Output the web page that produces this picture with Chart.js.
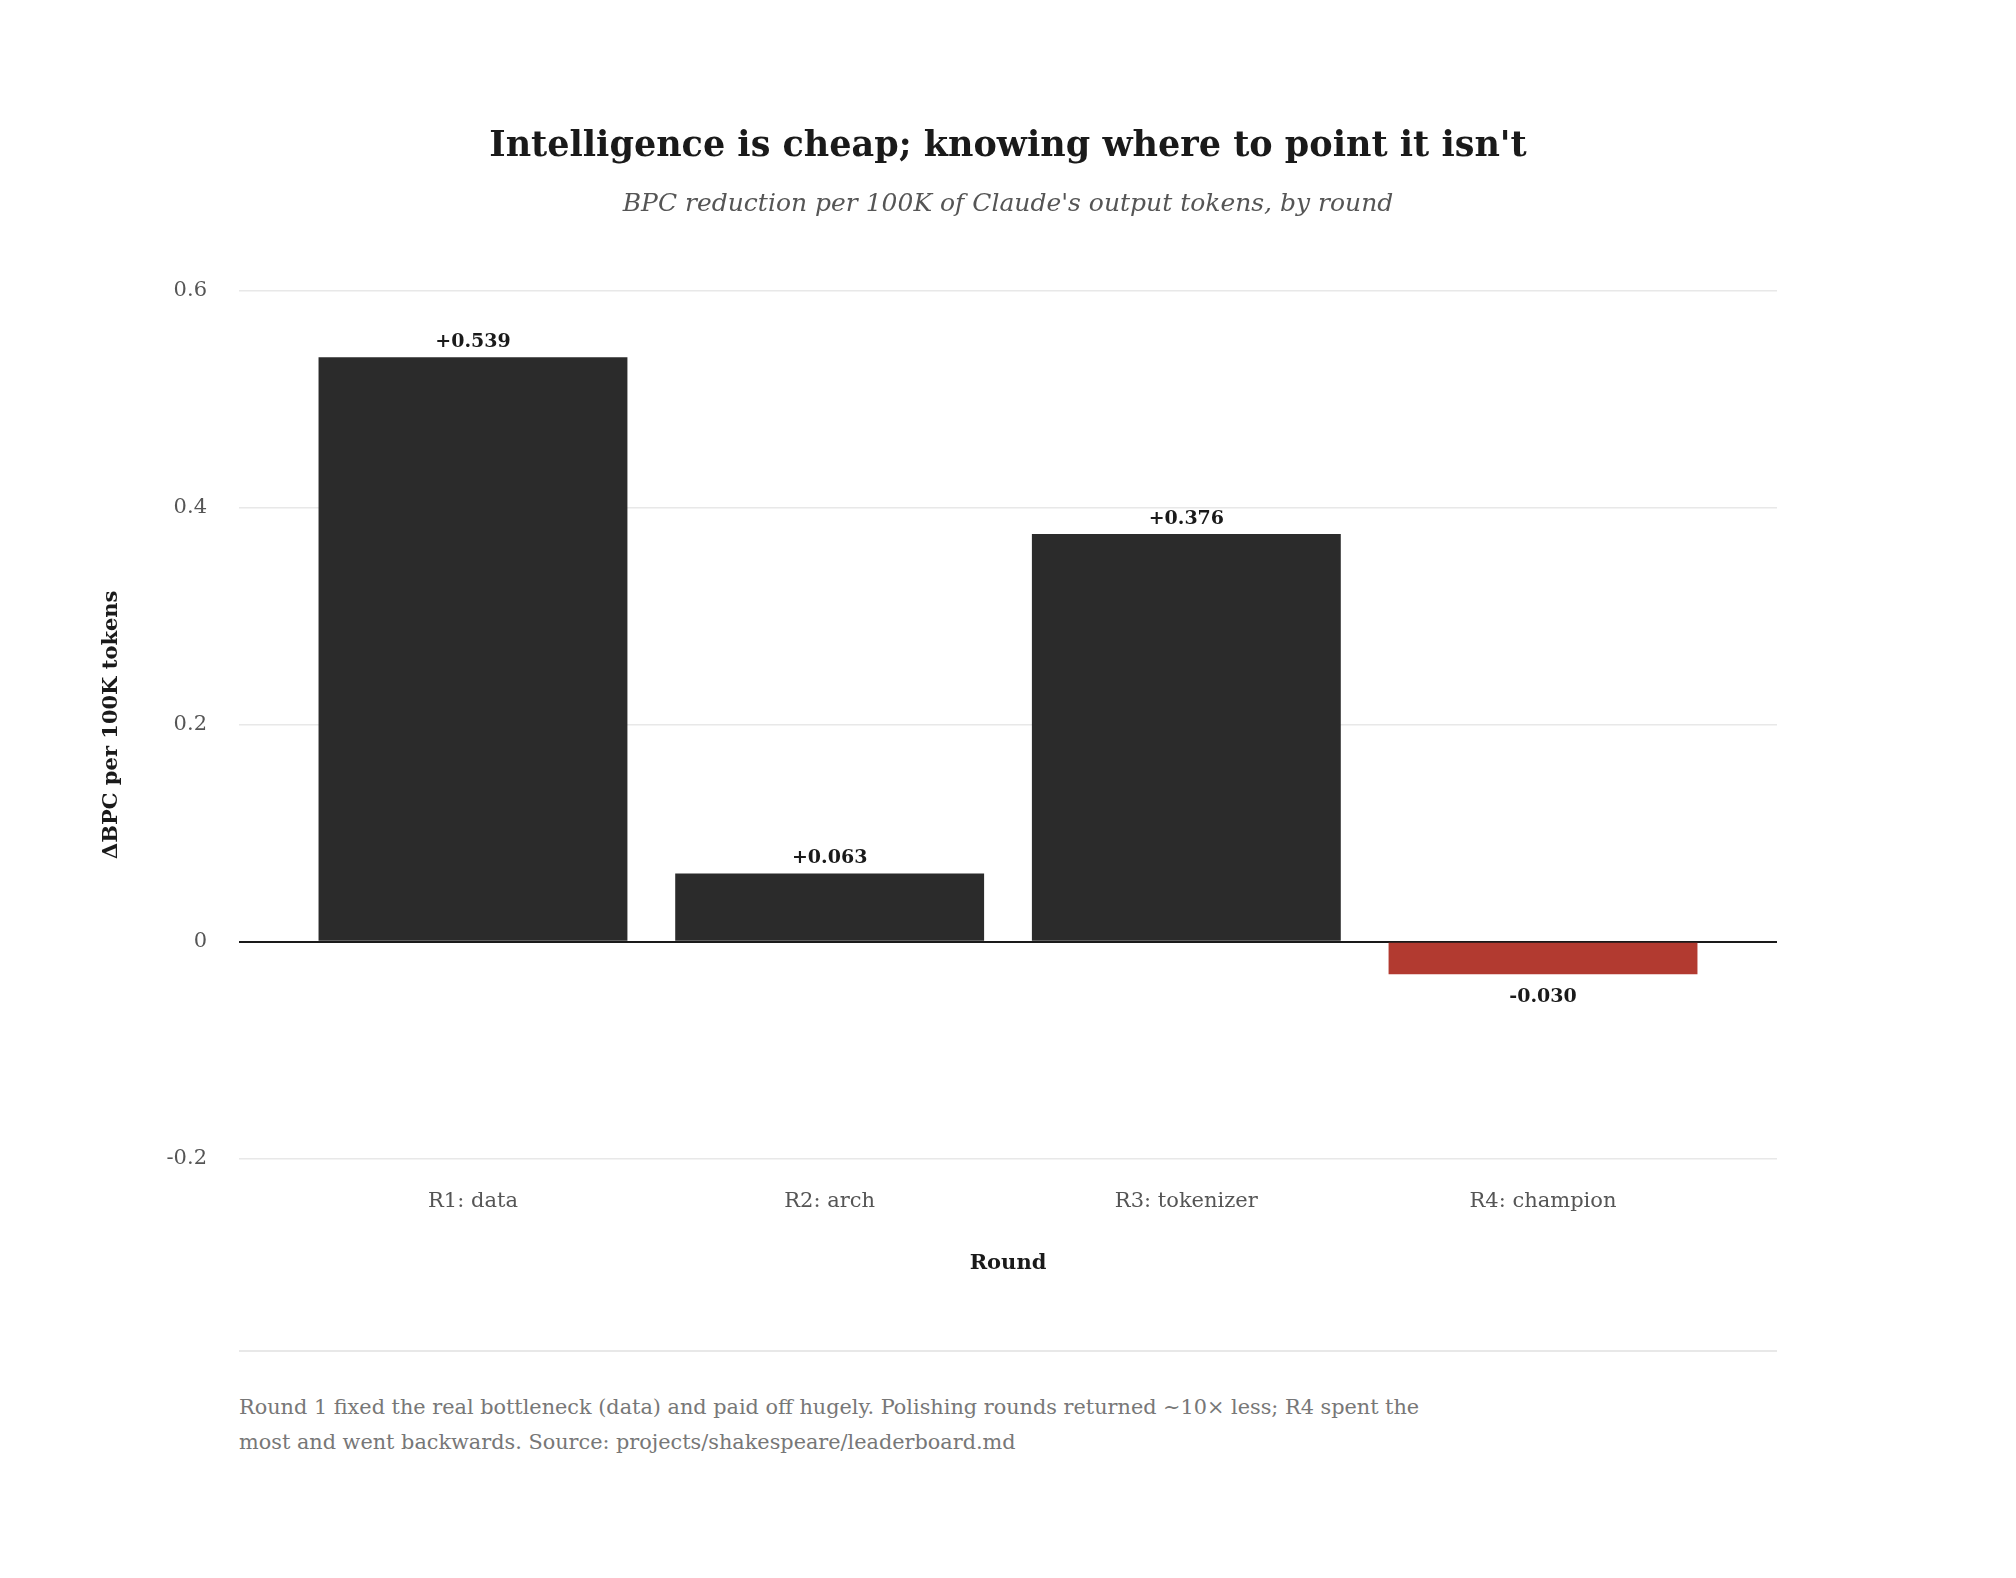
<!DOCTYPE html>
<html>
<head>
<meta charset="utf-8">
<script src="https://cdn.jsdelivr.net/npm/chart.js@4.4.1/dist/chart.umd.min.js"></script>
<style>
  html, body { margin: 0; padding: 0; background: #fff; }
  body { width: 2016px; height: 1578px; position: relative; font-family: "DejaVu Serif", serif; }
  #wrap { position: absolute; left: 0; top: 0; width: 2016px; height: 1300px; }
  #note {
    position: absolute; left: 239px; top: 1350px; width: 1538px;
    border-top: 2px solid #e8e8e8; padding-top: 38px;
    font-size: 20.8px; line-height: 35px; color: #777;
  }
</style>
</head>
<body>
<div id="wrap"><canvas id="chart"></canvas></div>
<div id="note">Round 1 fixed the real bottleneck (data) and paid off hugely. Polishing rounds returned ∼10× less; R4 spent the<br>most and went backwards. Source: projects/shakespeare/leaderboard.md</div>
<script>
(() => {
  'use strict';

  const rounds = ['R1: data', 'R2: arch', 'R3: tokenizer', 'R4: champion'];
  const deltaBpc = [0.539, 0.063, 0.376, -0.030];
  const barColors = ['#2b2b2b', '#2b2b2b', '#2b2b2b', '#b23a30'];

  const serif = '"DejaVu Serif", serif';

  // value labels above / below each bar
  const barLabels = {
    id: 'barLabels',
    afterDatasetsDraw(chart) {
      const ctx = chart.ctx;
      const meta = chart.getDatasetMeta(0);
      ctx.save();
      ctx.font = 'bold 19px ' + serif;
      ctx.fillStyle = '#1a1a1a';
      ctx.textAlign = 'center';
      ctx.textBaseline = 'middle';
      meta.data.forEach((bar, i) => {
        const v = deltaBpc[i];
        const txt = (v >= 0 ? '+' : '') + v.toFixed(3);
        if (v >= 0) ctx.fillText(txt, bar.x, bar.y - 15);
        else ctx.fillText(txt, bar.x, bar.y + 23);
      });
      ctx.restore();
    }
  };

  const ctx = document.getElementById('chart');
  new Chart(ctx, {
    type: 'bar',
    data: {
      datasets: [
        {
          label: 'ΔBPC',
          data: deltaBpc.map((v, i) => ({ x: i, y: v })),
          backgroundColor: barColors,
          borderWidth: 0,
          barPercentage: 0.866,
          categoryPercentage: 1.0
        }
      ]
    },
    options: {
      responsive: true,
      maintainAspectRatio: false,
      animation: false,
      layout: {
        padding: { top: 0, left: 95, right: 95, bottom: 24 }
      },
      plugins: {
        legend: { display: false },
        tooltip: { enabled: false },
        title: {
          display: true,
          text: "Intelligence is cheap; knowing where to point it isn't",
          color: '#1a1a1a',
          font: { family: serif, size: 35, weight: 'bold' },
          padding: { top: 126, bottom: 12 }
        },
        subtitle: {
          display: true,
          text: "BPC reduction per 100K of Claude's output tokens, by round",
          color: '#555',
          font: { family: serif, size: 25, style: 'italic' },
          padding: { top: 9, bottom: 72 }
        }
      },
      scales: {
        x: {
          type: 'linear',
          min: -0.656,
          max: 3.656,
          bounds: 'data',
          offset: false,
          // one tick per round, at the bar centres
          afterBuildTicks(scale) { scale.ticks = rounds.map((r, i) => ({ value: i })); },
          grid: { display: false, drawTicks: false },
          border: { display: false },
          ticks: {
            autoSkip: false,
            maxRotation: 0,
            color: '#555',
            font: { family: serif, size: 21 },
            padding: 30,
            callback: (v) => (rounds[v] !== undefined ? rounds[v] : '')
          },
          title: {
            display: true,
            text: 'Round',
            color: '#1a1a1a',
            font: { family: serif, size: 21, weight: 'bold' },
            padding: { top: 7, bottom: 0 }
          }
        },
        y: {
          min: -0.2,
          max: 0.6,
          afterFit(scale) { scale.width = 144; },
          grid: {
            drawTicks: false,
            color: (c) => (c.tick && c.tick.value === 0 ? '#1a1a1a' : '#e8e8e8'),
            lineWidth: (c) => (c.tick && c.tick.value === 0 ? 2 : 1.5)
          },
          border: { display: false },
          ticks: {
            stepSize: 0.2,
            color: '#555',
            padding: 32,
            font: { family: serif, size: 21 }
          },
          title: {
            display: true,
            text: 'ΔBPC per 100K tokens',
            color: '#1a1a1a',
            font: { family: serif, size: 21, weight: 'bold' },
            padding: { top: 4, bottom: 4 }
          }
        },
        // empty axis on the right so the title stays centred on the page
        yPad: {
          type: 'linear',
          position: 'right',
          afterFit(scale) { scale.width = 144; },
          grid: { display: false, drawTicks: false },
          border: { display: false },
          ticks: { display: false }
        }
      }
    },
    plugins: [barLabels]
  });
})();
</script>
</body>
</html>
